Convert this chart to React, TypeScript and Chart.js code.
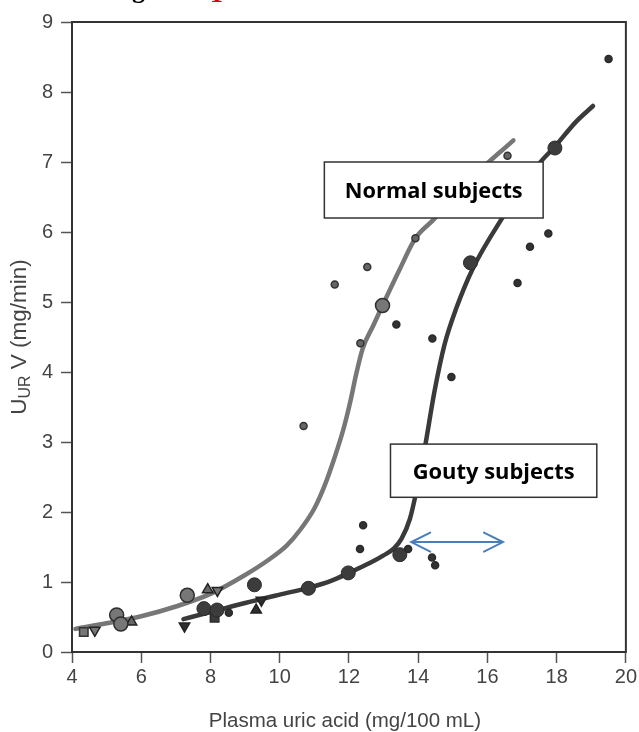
import React, { useEffect, useRef } from "react";
import { Chart, registerables } from "chart.js";

Chart.register(...registerables);

// ---------- data ----------
const xTicks = [4, 6, 8, 10, 12, 14, 16, 18, 20];
const yTicks = [0, 1, 2, 3, 4, 5, 6, 7, 8, 9];

const normalCurveX = [4.1, 5.0, 6.0, 7.0, 8.0, 9.0, 9.63, 10.2, 10.6, 11.0, 11.3, 11.6, 11.85, 12.05, 12.2, 12.4, 12.7, 12.97, 13.45, 13.92, 14.43, 15.5, 16.75];
const normalCurveY = [0.33, 0.41, 0.51, 0.65, 0.83, 1.1, 1.3, 1.52, 1.75, 2.05, 2.38, 2.8, 3.2, 3.6, 3.95, 4.34, 4.66, 4.95, 5.45, 5.91, 6.17, 6.75, 7.31];

const goutyCurveX = [7.22, 8.0, 9.0, 10.0, 10.86, 11.5, 12.0, 12.6, 13.0, 13.3, 13.52, 13.76, 13.95, 14.19, 14.47, 14.76, 15.1, 15.58, 16.39, 17.0, 17.5, 17.95, 18.55, 19.05];
const goutyCurveY = [0.47, 0.57, 0.7, 0.82, 0.92, 1.02, 1.13, 1.27, 1.38, 1.48, 1.62, 1.9, 2.3, 2.91, 3.72, 4.39, 4.91, 5.48, 6.17, 6.62, 6.98, 7.22, 7.57, 7.8];

const normalBigX = [5.29, 5.41, 7.33, 12.97];
const normalBigY = [0.53, 0.4, 0.81, 4.95];
const normalSmallX = [10.69, 11.59, 12.33, 12.53, 13.92, 16.58];
const normalSmallY = [3.23, 5.25, 4.41, 5.5, 5.91, 7.09];
const normalSquareX = [4.34];
const normalSquareY = [0.285];
const normalUpX = [5.72, 7.92];
const normalUpY = [0.43, 0.89];
const normalDownX = [4.66, 8.2];
const normalDownY = [0.31, 0.88];

const goutyBigX = [7.81, 8.19, 9.27, 10.83, 11.98, 13.47, 15.51, 17.95];
const goutyBigY = [0.62, 0.6, 0.96, 0.91, 1.13, 1.39, 5.56, 7.2];
const goutySmallX = [8.53, 12.32, 12.41, 13.37, 13.71, 14.4, 14.41, 14.49, 14.96, 16.87, 17.23, 17.76, 19.5];
const goutySmallY = [0.56, 1.47, 1.81, 4.68, 1.47, 1.35, 4.48, 1.24, 3.93, 5.27, 5.79, 5.98, 8.47];
const goutySquareX = [8.12];
const goutySquareY = [0.49];
const goutyUpX = [9.32];
const goutyUpY = [0.6];
const goutyDownX = [7.25, 9.47];
const goutyDownY = [0.37, 0.74];

const boxLabels = ["Normal subjects", "Gouty subjects"];
const xTitle = "Plasma uric acid (mg/100 mL)";

// annotation placement (in data units)
const boxRects = [
  { x1: 11.29, x2: 17.61, y1: 7.0, y2: 6.2, textW: 178 },
  { x1: 13.2, x2: 19.16, y1: 2.97, y2: 2.21, textW: 162 },
];
const arrowSpec = { x1: 13.8, x2: 16.45, y: 1.57 };

const pts = (xs: number[], ys: number[]) => xs.map((x, i) => ({ x, y: ys[i] }));

const AXIS_FONT = '"Liberation Sans", Arial, Helvetica, sans-serif';

const overlayPlugin = {
  id: "overlay",
  afterDatasetsDraw(chart: any) {
    const { ctx, chartArea: a, scales } = chart;
    const xs = scales.x;
    const ys = scales.y;
    ctx.save();
    // frame
    ctx.strokeStyle = "#333";
    ctx.lineWidth = 2;
    ctx.strokeRect(a.left, a.top, a.right - a.left, a.bottom - a.top);

    // double arrow
    const ax1 = xs.getPixelForValue(arrowSpec.x1);
    const ax2 = xs.getPixelForValue(arrowSpec.x2);
    const ay = ys.getPixelForValue(arrowSpec.y);
    ctx.strokeStyle = "#4a7ebb";
    ctx.lineWidth = 2;
    ctx.lineCap = "round";
    ctx.beginPath();
    ctx.moveTo(ax1, ay);
    ctx.lineTo(ax2, ay);
    ctx.moveTo(ax1 + 19, ay - 9.5);
    ctx.lineTo(ax1, ay);
    ctx.lineTo(ax1 + 19, ay + 9.5);
    ctx.moveTo(ax2 - 19, ay - 9.5);
    ctx.lineTo(ax2, ay);
    ctx.lineTo(ax2 - 19, ay + 9.5);
    ctx.stroke();

    // label boxes
    boxRects.forEach((b, i) => {
      const l = xs.getPixelForValue(b.x1);
      const r = xs.getPixelForValue(b.x2);
      const t = ys.getPixelForValue(b.y1);
      const bt = ys.getPixelForValue(b.y2);
      ctx.fillStyle = "#fff";
      ctx.fillRect(l, t, r - l, bt - t);
      ctx.strokeStyle = "#333";
      ctx.lineWidth = 1.5;
      ctx.strokeRect(l, t, r - l, bt - t);
      let size = 22;
      ctx.font = `bold ${size}px "Open Sans", sans-serif`;
      const w = ctx.measureText(boxLabels[i]).width;
      size = (size * b.textW) / w;
      ctx.font = `bold ${size}px "Open Sans", sans-serif`;
      ctx.fillStyle = "#000";
      ctx.textAlign = "center";
      ctx.textBaseline = "alphabetic";
      const cap = size * 0.714;
      ctx.fillText(boxLabels[i], (l + r) / 2, (t + bt) / 2 + cap / 2);
    });
    ctx.restore();
  },
  afterDraw(chart: any) {
    const { ctx, chartArea: a } = chart;
    ctx.save();
    // x axis title
    ctx.fillStyle = "#444";
    ctx.font = `20.5px ${AXIS_FONT}`;
    ctx.textAlign = "center";
    ctx.textBaseline = "alphabetic";
    ctx.fillText(xTitle, (a.left + a.right) / 2 - 4, 727);

    // y axis title with subscript
    const s = 22.5;
    const s2 = 16;
    const parts: [string, number, number][] = [
      ["U", s, 0],
      ["UR", s2, 4],
      [" V (mg/min)", s, 0],
    ];
    let total = 0;
    parts.forEach(([txt, sz]) => {
      ctx.font = `${sz}px ${AXIS_FONT}`;
      total += ctx.measureText(txt).width;
    });
    ctx.translate(18, (a.top + a.bottom) / 2);
    ctx.rotate(-Math.PI / 2);
    ctx.textAlign = "left";
    let cx = -total / 2;
    const base = (s * 0.716) / 2;
    parts.forEach(([txt, sz, off]) => {
      ctx.font = `${sz}px ${AXIS_FONT}`;
      ctx.fillText(txt, cx, base + off);
      cx += ctx.measureText(txt).width;
    });
    ctx.restore();

    // clipped heading at the very top
    ctx.save();
    ctx.font = `bold 26px "Liberation Serif", serif`;
    ctx.fillStyle = "#000";
    ctx.textAlign = "left";
    ctx.textBaseline = "alphabetic";
    ctx.fillText("Figure", 109, -2);
    ctx.fillStyle = "#e00000";
    ctx.fillText("1", 210, 2);
    ctx.restore();
  },
};

export default function App() {
  const ref = useRef<HTMLCanvasElement | null>(null);

  useEffect(() => {
    if (!ref.current) return;
    const curve = (xs: number[], ys: number[], color: string) => ({
      type: "line" as const,
      data: pts(xs, ys),
      borderColor: color,
      borderWidth: 4.5,
      borderCapStyle: "round",
      borderJoinStyle: "round",
      pointRadius: 0,
      showLine: true,
      fill: false,
      cubicInterpolationMode: "monotone",
      order: 10,
    });
    const marker = (
      xs: number[],
      ys: number[],
      style: string,
      radius: number,
      bg: string,
      border: string,
      rotation = 0,
      bw = 1.5
    ) => ({
      type: "scatter" as const,
      data: pts(xs, ys),
      pointStyle: style,
      pointRadius: radius,
      pointRotation: rotation,
      pointBackgroundColor: bg,
      pointBorderColor: border,
      pointBorderWidth: bw,
      showLine: false,
      order: 1,
    });

    const chart = new Chart(ref.current, {
      type: "scatter",
      data: {
        datasets: [
          marker(goutySmallX, goutySmallY, "circle", 3.5, "#333", "#2a2a2a"),
          marker(normalSmallX, normalSmallY, "circle", 3.5, "#666", "#333"),
          marker(goutyBigX, goutyBigY, "circle", 7, "#3c3c3c", "#2a2a2a", 0, 1),
          marker(goutySquareX, goutySquareY, "rect", 6, "#3a3a3a", "#2a2a2a"),
          marker(goutyUpX, goutyUpY, "triangle", 6, "#2e2e2e", "#222"),
          marker(goutyDownX, goutyDownY, "triangle", 6, "#2e2e2e", "#222", 180),
          marker(normalBigX, normalBigY, "circle", 7, "#777", "#2e2e2e"),
          marker(normalSquareX, normalSquareY, "rect", 6, "#777", "#333"),
          marker(normalUpX, normalUpY, "triangle", 6, "#666", "#222"),
          marker(normalDownX, normalDownY, "triangle", 6, "#777", "#222", 180),
          curve(goutyCurveX, goutyCurveY, "#3a3a3a"),
          curve(normalCurveX, normalCurveY, "#777"),
        ] as any,
      },
      options: {
        animation: false,
        responsive: true,
        maintainAspectRatio: false,
        layout: { padding: { top: 22, right: 12, left: 0, bottom: 0 } },
        plugins: {
          legend: { display: false },
          tooltip: { enabled: false },
          title: { display: false },
        },
        scales: {
          x: {
            type: "linear",
            min: 4,
            max: 20,
            afterBuildTicks: (s: any) => {
              s.ticks = xTicks.map((v) => ({ value: v }));
            },
            afterFit: (s: any) => {
              s.height = 80;
            },
            grid: {
              display: true,
              drawOnChartArea: false,
              drawTicks: true,
              tickLength: 11,
              tickWidth: 1.5,
              tickColor: "#555",
            },
            border: { display: false },
            ticks: {
              font: { family: AXIS_FONT, size: 20 },
              color: "#444",
              padding: 2,
              maxRotation: 0,
              autoSkip: false,
              callback: (v: any) => String(v),
            },
          },
          y: {
            type: "linear",
            min: 0,
            max: 9,
            afterBuildTicks: (s: any) => {
              s.ticks = yTicks.map((v) => ({ value: v }));
            },
            afterFit: (s: any) => {
              s.width = 72;
            },
            grid: {
              display: true,
              drawOnChartArea: false,
              drawTicks: true,
              tickLength: 11,
              tickWidth: 1.5,
              tickColor: "#555",
            },
            border: { display: false },
            ticks: {
              font: { family: AXIS_FONT, size: 20 },
              color: "#444",
              padding: 8,
              autoSkip: false,
              callback: (v: any) => String(v),
            },
          },
        },
      } as any,
      plugins: [overlayPlugin],
    });
    return () => chart.destroy();
  }, []);

  return (
    <div style={{ position: "absolute", left: 0, top: 0, width: 639, height: 732, background: "#fff" }}>
      <canvas ref={ref} />
    </div>
  );
}
